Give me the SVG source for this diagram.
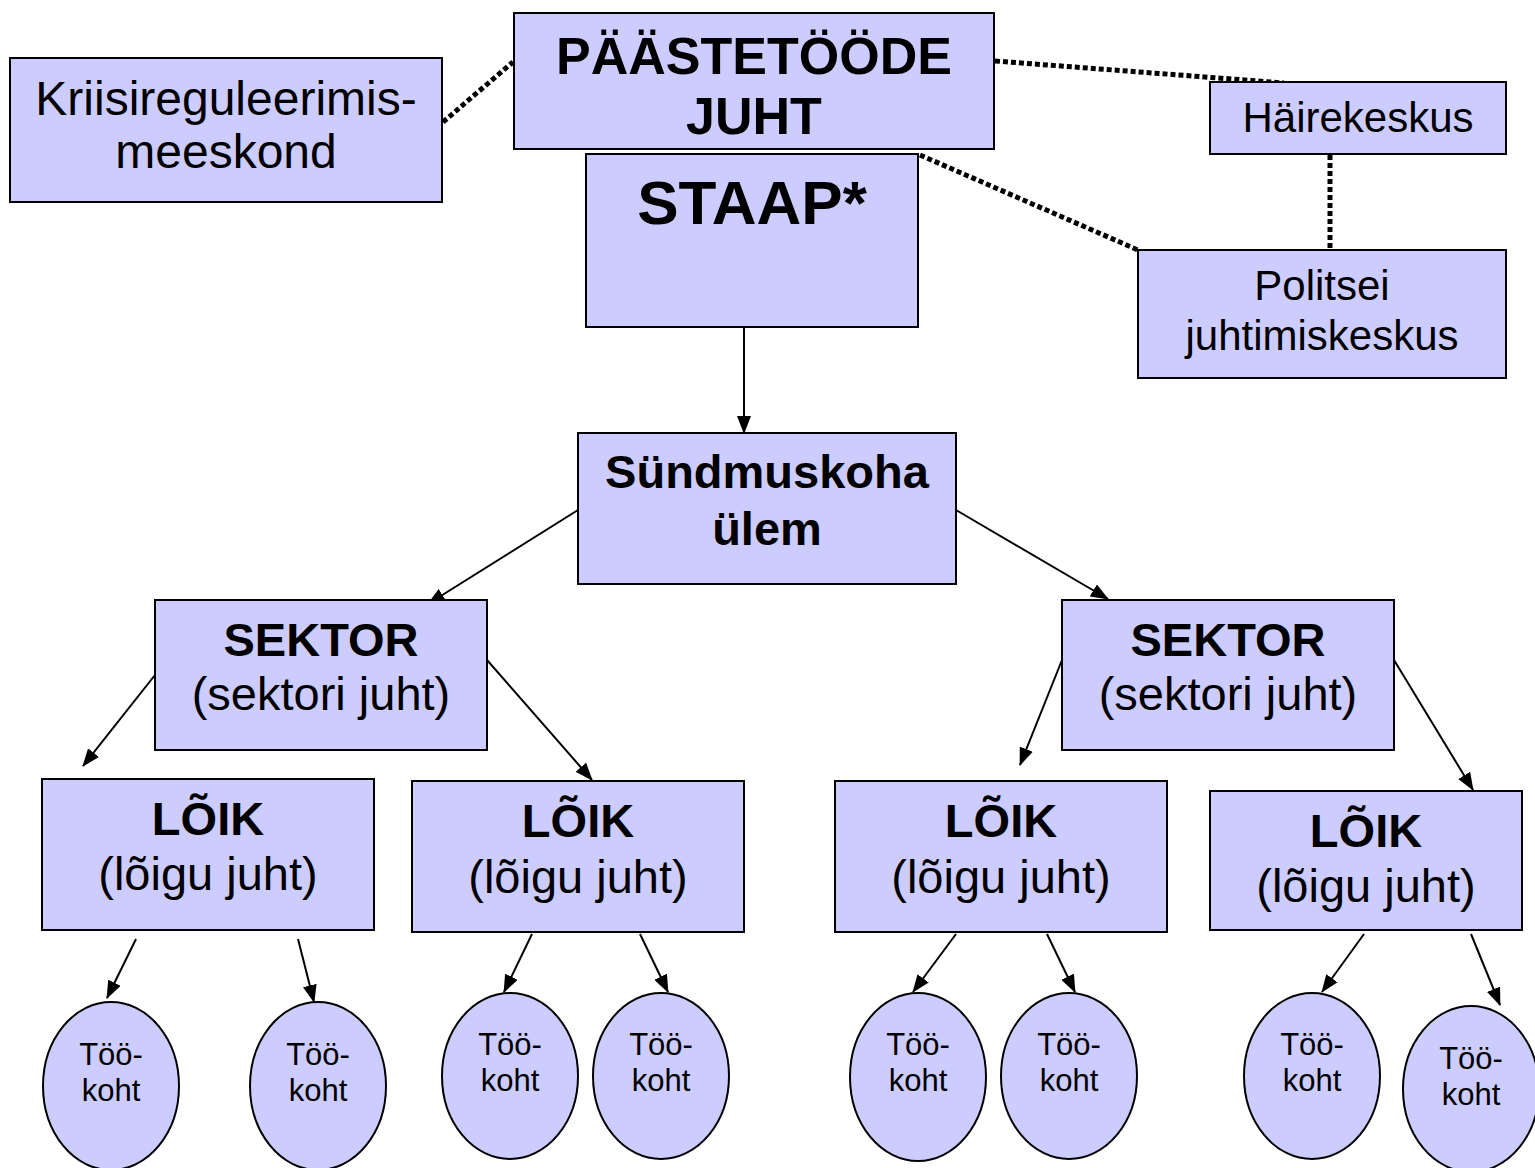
<svg xmlns="http://www.w3.org/2000/svg" width="1535" height="1168" viewBox="0 0 1535 1168">
<style>
.box{fill:#CCCCFF;stroke:#000;stroke-width:2}
.t{font-family:"Liberation Sans",Arial,sans-serif;fill:#000;text-anchor:middle}
.b{font-weight:bold}
.dot{stroke:#000;stroke-width:5;stroke-dasharray:5 3;fill:none}
.arr{stroke:#000;stroke-width:2;fill:none;marker-end:url(#ah)}
</style>
<defs>
<marker id="ah" markerUnits="userSpaceOnUse" markerWidth="18" markerHeight="14" refX="17" refY="7" orient="auto">
<path d="M0,0 L18,7 L0,14 Z" fill="#000"/>
</marker>
</defs>
<rect width="1535" height="1168" fill="#fff"/>
<g id="connectors">
<line class="dot" x1="443" y1="122" x2="513" y2="62"/>
<line class="dot" x1="995" y1="61" x2="1284" y2="83"/>
<line class="dot" x1="920" y1="155" x2="1138" y2="250"/>
<line class="dot" x1="1330" y1="155" x2="1330" y2="250"/>
<line class="arr" x1="744" y1="328" x2="744" y2="433"/>
<line class="arr" x1="578" y1="510" x2="428" y2="604"/>
<line class="arr" x1="956" y1="510" x2="1108" y2="599"/>
<line class="arr" x1="155" y1="675" x2="83" y2="766"/>
<line class="arr" x1="487" y1="660" x2="592" y2="780"/>
<line class="arr" x1="1062" y1="660" x2="1020" y2="765"/>
<line class="arr" x1="1394" y1="660" x2="1473" y2="790"/>
<line class="arr" x1="136" y1="939" x2="107" y2="998"/>
<line class="arr" x1="298" y1="939" x2="314" y2="1002"/>
<line class="arr" x1="532" y1="934" x2="504" y2="992"/>
<line class="arr" x1="640" y1="934" x2="668" y2="992"/>
<line class="arr" x1="956" y1="934" x2="913" y2="992"/>
<line class="arr" x1="1047" y1="934" x2="1075" y2="992"/>
<line class="arr" x1="1364" y1="934" x2="1322" y2="992"/>
<line class="arr" x1="1471" y1="934" x2="1500" y2="1005"/>
</g>
<g id="kriis">
<rect class="box" x="10" y="58" width="432" height="144"/>
<text class="t" x="226" y="115" font-size="48">Kriisireguleerimis-</text>
<text class="t" x="226" y="168" font-size="48">meeskond</text>
</g>
<g id="paaste">
<rect class="box" x="514" y="13" width="480" height="136"/>
<text class="t b" x="754" y="74" font-size="52">PÄÄSTETÖÖDE</text>
<text class="t b" x="754" y="134" font-size="52">JUHT</text>
</g>
<g id="staap">
<rect class="box" x="586" y="154" width="332" height="173"/>
<text class="t b" x="752" y="224" font-size="62">STAAP*</text>
</g>
<g id="haire">
<rect class="box" x="1210" y="82" width="296" height="72"/>
<text class="t" x="1358" y="132" font-size="42">Häirekeskus</text>
</g>
<g id="politsei">
<rect class="box" x="1138" y="250" width="368" height="128"/>
<text class="t" x="1322" y="300" font-size="42">Politsei</text>
<text class="t" x="1322" y="350" font-size="42">juhtimiskeskus</text>
</g>
<g id="syndmus">
<rect class="box" x="578" y="433" width="378" height="151"/>
<text class="t b" x="767" y="488" font-size="47">Sündmuskoha</text>
<text class="t b" x="767" y="545" font-size="47">ülem</text>
</g>
<g id="sektor1">
<rect class="box" x="155" y="600" width="332" height="150"/>
<text class="t b" x="321" y="656" font-size="47">SEKTOR</text>
<text class="t" x="321" y="710" font-size="47">(sektori juht)</text>
</g>
<g id="sektor2">
<rect class="box" x="1062" y="600" width="332" height="150"/>
<text class="t b" x="1228" y="656" font-size="47">SEKTOR</text>
<text class="t" x="1228" y="710" font-size="47">(sektori juht)</text>
</g>
<g id="loik1">
<rect class="box" x="42" y="779" width="332" height="151"/>
<text class="t b" x="208" y="835" font-size="47">LÕIK</text>
<text class="t" x="208" y="890" font-size="47">(lõigu juht)</text>
</g>
<g id="loik2">
<rect class="box" x="412" y="781" width="332" height="151"/>
<text class="t b" x="578" y="837" font-size="47">LÕIK</text>
<text class="t" x="578" y="893" font-size="47">(lõigu juht)</text>
</g>
<g id="loik3">
<rect class="box" x="835" y="781" width="332" height="151"/>
<text class="t b" x="1001" y="837" font-size="47">LÕIK</text>
<text class="t" x="1001" y="893" font-size="47">(lõigu juht)</text>
</g>
<g id="loik4">
<rect class="box" x="1210" y="791" width="312" height="139"/>
<text class="t b" x="1366" y="847" font-size="47">LÕIK</text>
<text class="t" x="1366" y="902" font-size="47">(lõigu juht)</text>
</g>
<g id="koht1">
<ellipse class="box" cx="111" cy="1086" rx="68" ry="84"/>
<text class="t" x="111" y="1065" font-size="31">Töö-</text>
<text class="t" x="111" y="1101" font-size="31">koht</text>
</g>
<g id="koht2">
<ellipse class="box" cx="318" cy="1086" rx="68" ry="84"/>
<text class="t" x="318" y="1065" font-size="31">Töö-</text>
<text class="t" x="318" y="1101" font-size="31">koht</text>
</g>
<g id="koht3">
<ellipse class="box" cx="510" cy="1076" rx="68" ry="83"/>
<text class="t" x="510" y="1055" font-size="31">Töö-</text>
<text class="t" x="510" y="1091" font-size="31">koht</text>
</g>
<g id="koht4">
<ellipse class="box" cx="661" cy="1076" rx="68" ry="83"/>
<text class="t" x="661" y="1055" font-size="31">Töö-</text>
<text class="t" x="661" y="1091" font-size="31">koht</text>
</g>
<g id="koht5">
<ellipse class="box" cx="918" cy="1077" rx="68" ry="84"/>
<text class="t" x="918" y="1055" font-size="31">Töö-</text>
<text class="t" x="918" y="1091" font-size="31">koht</text>
</g>
<g id="koht6">
<ellipse class="box" cx="1069" cy="1076" rx="68" ry="83"/>
<text class="t" x="1069" y="1055" font-size="31">Töö-</text>
<text class="t" x="1069" y="1091" font-size="31">koht</text>
</g>
<g id="koht7">
<ellipse class="box" cx="1312" cy="1076" rx="68" ry="83"/>
<text class="t" x="1312" y="1055" font-size="31">Töö-</text>
<text class="t" x="1312" y="1091" font-size="31">koht</text>
</g>
<g id="koht8">
<ellipse class="box" cx="1471" cy="1089" rx="68" ry="83"/>
<text class="t" x="1471" y="1069" font-size="31">Töö-</text>
<text class="t" x="1471" y="1105" font-size="31">koht</text>
</g>
</svg>
